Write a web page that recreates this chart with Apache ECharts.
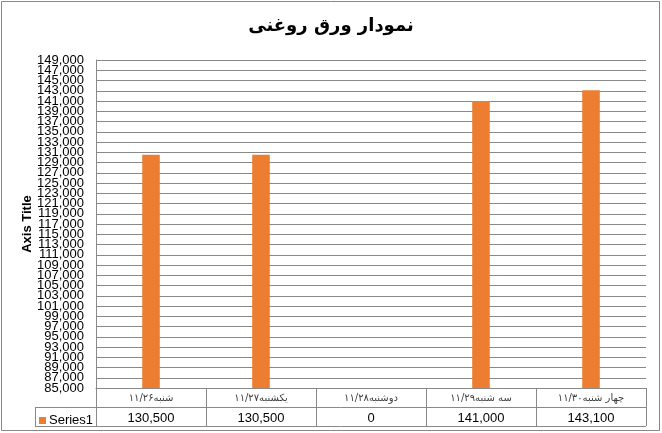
<!DOCTYPE html>
<html><head><meta charset="utf-8">
<script src="https://cdn.jsdelivr.net/npm/echarts@6/dist/echarts.min.js"></script>
<style>html,body{margin:0;padding:0;background:#fff}#c{width:662px;height:433px}</style>
</head><body><div id="c"></div>
<script>
const title = 'نمودار ورق روغنی';
const categories = ['شنبه۱۱/۲۶', 'یکشنبه۱۱/۲۷', 'دوشنبه۱۱/۲۸', 'سه شنبه۱۱/۲۹', 'چهار شنبه۱۱/۳۰'];
const seriesName = 'Series1';
const values = [130500, 130500, 0, 141000, 143100];
const yMin = 85000, yMax = 149000, yStep = 2000;

const fmt = v => v.toLocaleString('en-US');
const gray = '#888888';
const parity = v => Math.round((v - yMin) / yStep) % 2;
const labelStyle = {margin: 12, fontFamily: 'Liberation Sans', fontSize: 13, color: '#000',
  showMinLabel: true, showMaxLabel: true, hideOverlap: false};
const chart = echarts.init(document.getElementById('c'), null, {renderer: 'canvas'});
chart.setOption({
  animation: false,
  backgroundColor: '#fff',
  title: {
    text: title, left: 'center', top: 12,
    textStyle: {fontFamily: 'DejaVu Sans', fontWeight: 'bold', fontSize: 18, color: '#000'}
  },
  legend: {
    data: [seriesName], left: 34, top: 409, icon: 'rect', itemWidth: 7, itemHeight: 7, itemGap: 4,
    textStyle: {fontFamily: 'Liberation Sans', fontSize: 13, color: '#000', padding: [0, 0, 0, -2]},
    selectedMode: false
  },
  grid: {left: 96, right: 16, top: 60, bottom: 45, containLabel: false},
  xAxis: [{
    type: 'category', data: categories, position: 'bottom',
    axisLine: {show: true, lineStyle: {color: gray, width: 1}},
    axisTick: {show: true, length: 38, interval: 0, lineStyle: {color: gray}},
    axisLabel: {interval: 0, margin: 5, fontFamily: 'DejaVu Sans', fontSize: 10, color: '#404040'}
  }, {
    type: 'category', data: categories, position: 'bottom', offset: 19,
    axisLine: {show: false}, axisTick: {show: false},
    axisLabel: {interval: 0, margin: 5, fontFamily: 'Liberation Sans', fontSize: 13, color: '#000',
      formatter: (v, i) => fmt(values[i])}
  }],
  yAxis: [{
    type: 'value', min: yMin, max: yMax, interval: yStep, position: 'left',
    name: 'Axis Title', nameLocation: 'middle', nameGap: 62, nameRotate: 90, nameMoveOverlap: false,
    nameTextStyle: {fontFamily: 'Liberation Sans', fontWeight: 'bold', fontSize: 13, color: '#000'},
    axisLine: {show: true, lineStyle: {color: gray}},
    axisTick: {show: false},
    axisLabel: Object.assign({}, labelStyle, {formatter: v => parity(v) === 0 ? fmt(v) : ''}),
    splitLine: {show: true, lineStyle: {color: gray, width: 1}}
  }, {
    type: 'value', min: yMin, max: yMax, interval: yStep, position: 'left', offset: 0,
    axisLine: {show: false}, axisTick: {show: false}, splitLine: {show: false},
    axisLabel: Object.assign({}, labelStyle, {formatter: v => parity(v) === 1 ? fmt(v) : ''})
  }],
  series: [{
    name: seriesName, type: 'bar', data: values, barWidth: '16%', clip: true,
    itemStyle: {color: '#ED7D31'}
  }],
  graphic: [
    {type: 'rect', shape: {x: 1.5, y: 1.5, width: 658, height: 429}, style: {fill: null, stroke: gray, lineWidth: 1}, silent: true},
    {type: 'line', shape: {x1: 35, y1: 407.5, x2: 646, y2: 407.5}, style: {stroke: gray, lineWidth: 1}, silent: true},
    {type: 'line', shape: {x1: 35, y1: 426.5, x2: 646, y2: 426.5}, style: {stroke: gray, lineWidth: 1}, silent: true},
    {type: 'line', shape: {x1: 35.5, y1: 407, x2: 35.5, y2: 427}, style: {stroke: gray, lineWidth: 1}, silent: true}
  ]
});
</script></body></html>
